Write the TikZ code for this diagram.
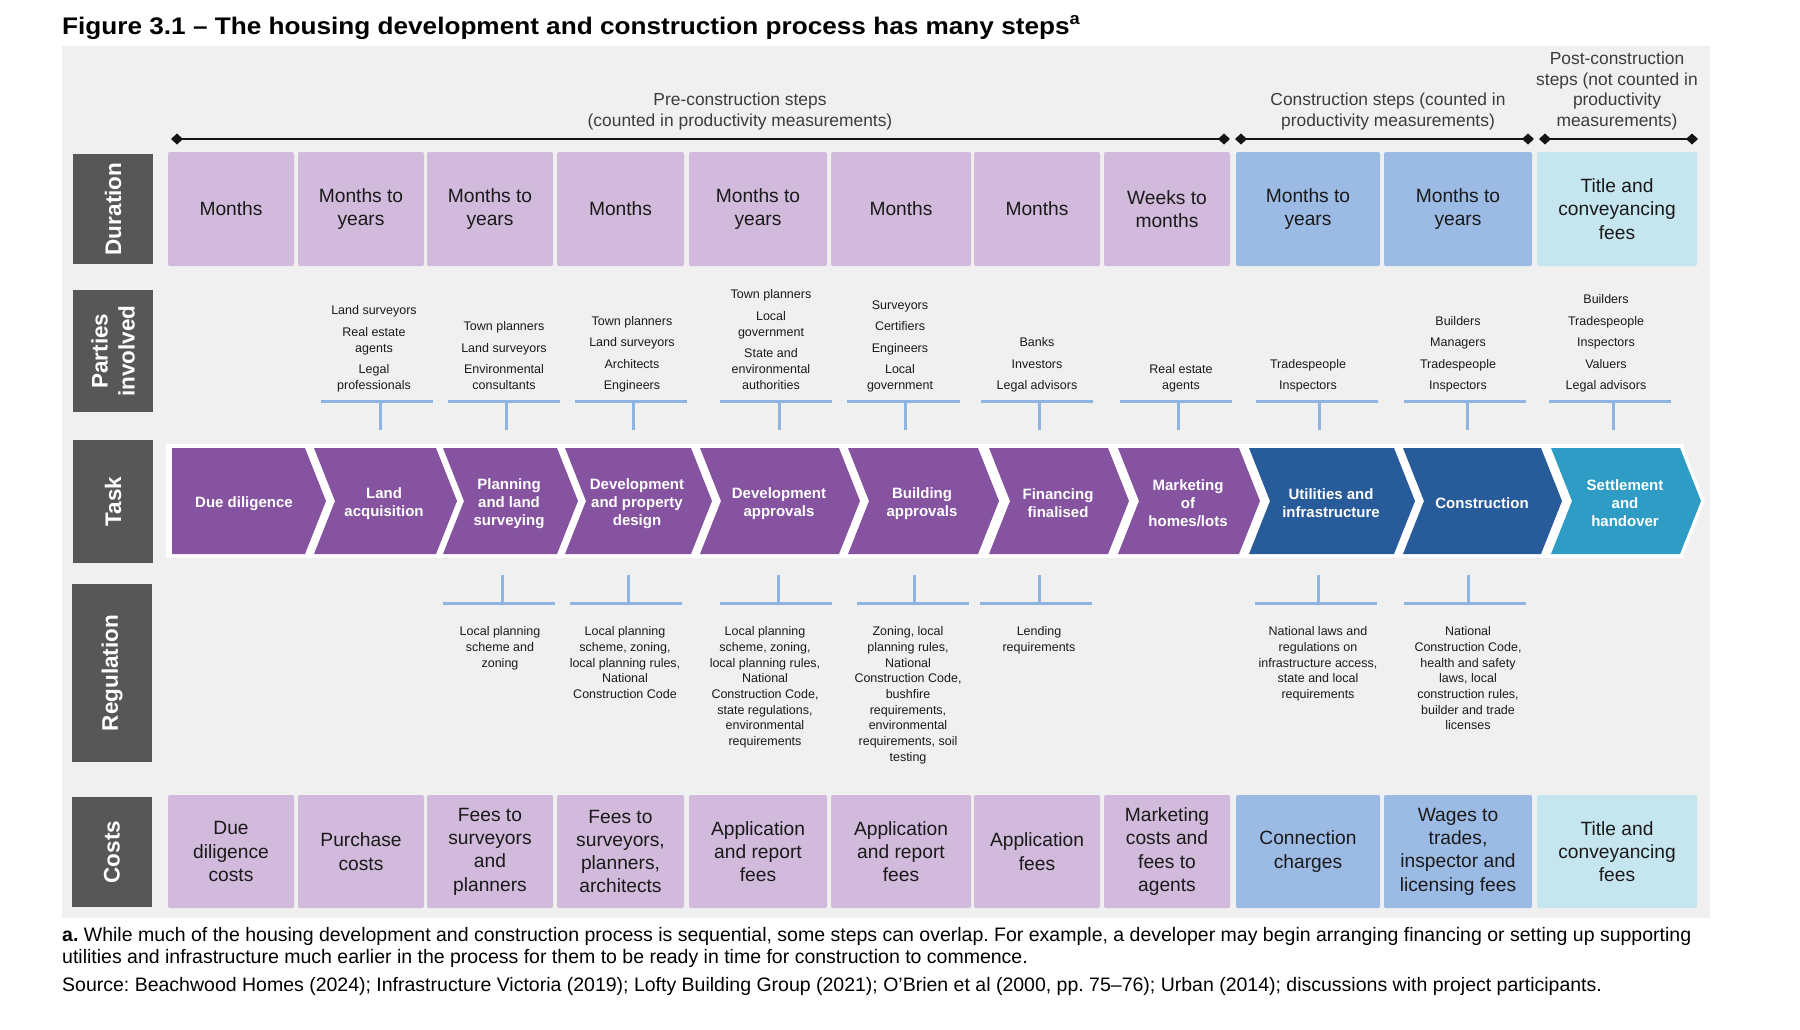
\documentclass[tikz,border=0pt]{standalone}
\usepackage{fontspec}
\setmainfont{Liberation Sans}
\usetikzlibrary{arrows.meta}
\frenchspacing
\definecolor{panel}{HTML}{F0F0F0}
\definecolor{labgray}{HTML}{575757}
\definecolor{lpurp}{HTML}{D1BADB}
\definecolor{lblue}{HTML}{9BBAE4}
\definecolor{lcyan}{HTML}{C5E5EF}
\definecolor{cpurp}{HTML}{8653A0}
\definecolor{cblue}{HTML}{275B9A}
\definecolor{cteal}{HTML}{2E9CC4}
\definecolor{tline}{HTML}{90B4E2}
\definecolor{txt}{HTML}{1A1A1A}
\definecolor{hdr}{HTML}{3C3C3C}
\begin{document}
\begin{tikzpicture}[x=1pt,y=-1pt,
  rowlab/.style={fill=labgray,text=white,inner sep=0pt,rotate=90,align=center,
    font=\fontsize{22.5}{27}\selectfont\bfseries},
  durbox/.style={rounded corners=2pt,inner sep=0pt,align=center,text=txt,
    font=\fontsize{19.2}{23.3}\selectfont},
  ptext/.style={inner sep=0pt,align=center,text=txt,anchor=south,
    font=\fontsize{12.5}{16}\selectfont},
  rtext/.style={inner sep=0pt,align=center,text=txt,anchor=north,
    font=\fontsize{12.5}{15.7}\selectfont},
  ttext/.style={inner sep=0pt,align=center,text=white,
    font=\fontsize{15}{18}\selectfont\bfseries},
  htext/.style={inner sep=0pt,align=center,text=hdr,anchor=south,
    font=\fontsize{17.4}{20.7}\selectfont},
  hline/.style={line width=2.5pt,draw=black!92,{Diamond[length=12pt,width=11pt]}-{Diamond[length=12pt,width=11pt]}},
  tcon/.style={draw=tline,line width=3pt},
  fnote/.style={inner sep=0pt,anchor=base west,text=black,font=\fontsize{19.5}{22}\selectfont}
]
\useasboundingbox (0,0) rectangle (1800,1029);
\fill[white] (0,0) rectangle (1800,1029);

% title
\node[anchor=base west,inner sep=0pt] (title) at (62,34)
  {\scalebox{1.09}[1]{\fontsize{24}{28}\selectfont\bfseries Figure 3.1 – The housing development and construction process has many steps\textsuperscript{a}}};

% panel
\fill[panel] (62,46) rectangle (1710,918);

% header
\node[htext] (hpre) at (740,133) {Pre-construction steps\\(counted in productivity measurements)\strut};
\node[htext] (hcon) at (1388,133) {Construction steps (counted in\\productivity measurements)\strut};
\node[htext] (hpost) at (1617,133) {Post-construction\\steps (not counted in\\productivity\\measurements)\strut};
\coordinate (pa) at (171,139); \coordinate (pb) at (1230,139);
\coordinate (ca) at (1235,139); \coordinate (cb) at (1534,139);
\coordinate (qa) at (1539,139); \coordinate (qb) at (1698,139);
\draw[hline] (pa) -- (pb);
\draw[hline] (ca) -- (cb);
\draw[hline] (qa) -- (qb);

% row labels
\node[rowlab,minimum width=110pt,minimum height=80pt] (lduration) at (113,209) {Duration};
\node[rowlab,minimum width=122pt,minimum height=80pt] (lparties) at (113,351) {Parties\\involved};
\node[rowlab,minimum width=123pt,minimum height=80pt] (ltask) at (113,501.5) {Task};
\node[rowlab,minimum width=178pt,minimum height=80pt] (lregulation) at (112,673) {Regulation};
\node[rowlab,minimum width=110pt,minimum height=80pt] (lcosts) at (112,852) {Costs};

% duration boxes
\foreach \n/\cx/\w/\col/\t in {
  1/231/126/lpurp/{Months},
  2/361/126/lpurp/{Months to\\years},
  3/490/126/lpurp/{Months to\\years},
  4/620.5/127/lpurp/{Months},
  5/758/138/lpurp/{Months to\\years},
  6/901/140/lpurp/{Months},
  7/1037/126/lpurp/{Months},
  8/1167/126/lpurp/{Weeks to\\months},
  9/1308/144/lblue/{Months to\\years},
  10/1458/148/lblue/{Months to\\years},
  11/1617/160/lcyan/{Title and\\conveyancing\\fees}}
  {\node[durbox,fill=\col,minimum width=\w pt,minimum height=114pt] (dur\n) at (\cx,209) {\t};}

% costs boxes
\foreach \n/\cx/\w/\col/\t in {
  1/231/126/lpurp/{Due\\diligence\\costs},
  2/361/126/lpurp/{Purchase\\costs},
  3/490/126/lpurp/{Fees to\\surveyors\\and\\planners},
  4/620.5/127/lpurp/{Fees to\\surveyors,\\planners,\\architects},
  5/758/138/lpurp/{Application\\and report\\fees},
  6/901/140/lpurp/{Application\\and report\\fees},
  7/1037/126/lpurp/{Application\\fees},
  8/1167/126/lpurp/{Marketing\\costs and\\fees to\\agents},
  9/1308/144/lblue/{Connection\\charges},
  10/1458/148/lblue/{Wages to\\trades,\\inspector and\\licensing fees},
  11/1617/160/lcyan/{Title and\\conveyancing\\fees}}
  {\node[durbox,fill=\col,minimum width=\w pt,minimum height=113pt] (cost\n) at (\cx,851.5) {\t};}

% parties involved
\foreach \n/\tx/\bl/\br/\s/\t in {
  2/374/321/433/380/{Land surveyors\\[5.5pt]Real estate\\agents\\[5.5pt]Legal\\professionals},
  3/504/448/560/506/{Town planners\\[5.5pt]Land surveyors\\[5.5pt]Environmental\\consultants},
  4/632/575/687/633/{Town planners\\[5.5pt]Land surveyors\\[5.5pt]Architects\\[5.5pt]Engineers},
  5/771/720/832/779/{Town planners\\[5.5pt]Local\\government\\[5.5pt]State and\\environmental\\authorities},
  6/900/847/960/905/{Surveyors\\[5.5pt]Certifiers\\[5.5pt]Engineers\\[5.5pt]Local\\government},
  7/1037/981/1093/1039/{Banks\\[5.5pt]Investors\\[5.5pt]Legal advisors},
  8/1181/1120/1232/1178/{Real estate\\agents},
  9/1308/1256/1378/1319/{Tradespeople\\[5.5pt]Inspectors},
  10/1458/1404/1526/1467/{Builders\\[5.5pt]Managers\\[5.5pt]Tradespeople\\[5.5pt]Inspectors},
  11/1606/1549/1671/1613/{Builders\\[5.5pt]Tradespeople\\[5.5pt]Inspectors\\[5.5pt]Valuers\\[5.5pt]Legal advisors}}
  {\node[ptext] (party\n) at (\tx,394.8) {\t\strut};
   \coordinate (pl\n) at (\bl,401); \coordinate (pr\n) at (\br,401);
   \coordinate (pm\n) at (\s,401); \coordinate (ps\n) at (\s,430);
   \draw[tcon] (pl\n) -- (pr\n);
   \draw[tcon] (pm\n) -- (ps\n);}

% task chevrons
\fill[white] (166,444) rectangle (1684,558);
\foreach \n/\L/\R in {1/172/305}
  {\draw[white,line width=7pt,line join=miter] (\L,448) -- (\R,448) -- (\R+21,501) -- (\R,554) -- (\L,554) -- cycle;}
\foreach \n/\L/\R in {2/314/436,3/443/557,4/565/691,5/700/839,6/848/978,7/989/1108,8/1118/1239,9/1249/1394,10/1403/1541,11/1551/1680}
  {\draw[white,line width=7pt,line join=miter] (\L,448) -- (\R,448) -- (\R+21,501) -- (\R,554) -- (\L,554) -- (\L+21,501) -- cycle;}
\fill[cpurp] (172,448) -- (305,448) -- (326,501) -- (305,554) -- (172,554) -- cycle;
\foreach \n/\L/\R/\col in {2/314/436/cpurp,3/443/557/cpurp,4/565/691/cpurp,5/700/839/cpurp,6/848/978/cpurp,7/989/1108/cpurp,8/1118/1239/cpurp,9/1249/1394/cblue,10/1403/1541/cblue,11/1551/1680/cteal}
  {\fill[\col] (\L,448) -- (\R,448) -- (\R+21,501) -- (\R,554) -- (\L,554) -- (\L+21,501) -- cycle;}
\foreach \n/\cx/\t in {
  1/244/{Due diligence},
  2/384/{Land\\acquisition},
  3/509/{Planning\\and land\\surveying},
  4/637/{Development\\and property\\design},
  5/779/{Development\\approvals},
  6/922/{Building\\approvals},
  7/1058/{Financing\\finalised},
  8/1188/{Marketing\\of\\homes/lots},
  9/1331/{Utilities and\\infrastructure},
  10/1482/{Construction},
  11/1625/{Settlement\\and\\handover}}
  {\node[ttext] (task\n) at (\cx,503.5) {\t};}

% regulation
\foreach \n/\tx/\bl/\br/\s/\t in {
  3/500/443/555/502/{Local planning\\scheme and\\zoning},
  4/625/570/682/628/{Local planning\\scheme, zoning,\\local planning rules,\\National\\Construction Code},
  5/765/720/832/778/{Local planning\\scheme, zoning,\\local planning rules,\\National\\Construction Code,\\state regulations,\\environmental\\requirements},
  6/908/857/969/914/{Zoning, local\\planning rules,\\National\\Construction Code,\\bushfire\\requirements,\\environmental\\requirements, soil\\testing},
  7/1039/980/1092/1039/{Lending\\requirements},
  9/1318/1255/1377/1318/{National laws and\\regulations on\\infrastructure access,\\state and local\\requirements},
  10/1468/1404/1526/1468/{National\\Construction Code,\\health and safety\\laws, local\\construction rules,\\builder and trade\\licenses}}
  {\coordinate (rs\n) at (\s,575); \coordinate (rm\n) at (\s,603);
   \coordinate (rl\n) at (\bl,603); \coordinate (rr\n) at (\br,603);
   \draw[tcon] (rs\n) -- (rm\n);
   \draw[tcon] (rl\n) -- (rr\n);
   \node[rtext] (reg\n) at (\tx,624.5) {\strut\t};}

% footnotes
\node[fnote] (fn1) at (62,941) {\textbf{a.} While much of the housing development and construction process is sequential, some steps can overlap. For example, a developer may begin arranging financing or setting up supporting};
\node[fnote] (fn2) at (62,963) {utilities and infrastructure much earlier in the process for them to be ready in time for construction to commence.};
\node[fnote] (src) at (62,991) {Source: Beachwood Homes (2024); Infrastructure Victoria (2019); Lofty Building Group (2021); O’Brien et al (2000, pp. 75–76); Urban (2014); discussions with project participants.};
\end{tikzpicture}
\end{document}
